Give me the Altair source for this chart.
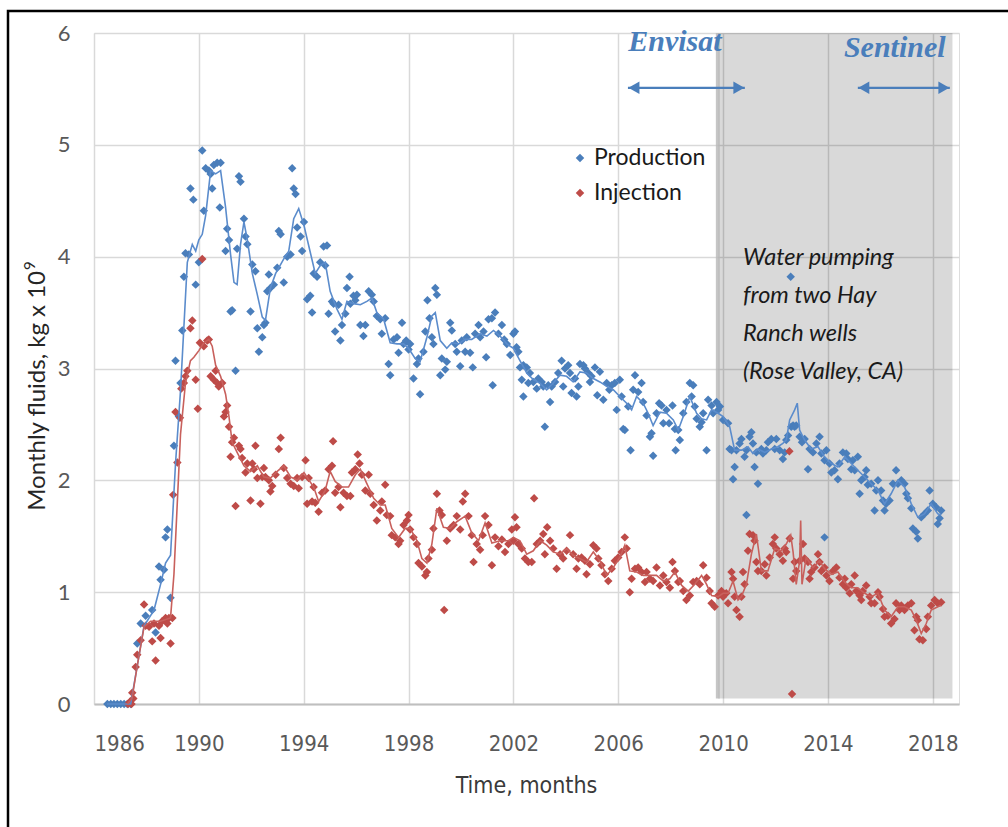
import altair as alt
import pandas as pd

# Monthly production (year, 1e9 kg)
prod_1986_1994 = [
    (1986.51, 0.0), (1986.64, 0.0), (1986.76, 0.0), (1986.89, 0.0), (1987.02, 0.0), (1987.15, 0.0),
    (1987.27, 0.0), (1987.40, 0.0), (1987.65, 0.54), (1987.78, 0.72), (1987.97, 0.79), (1988.22, 0.84),
    (1988.35, 0.64), (1988.48, 1.23), (1988.54, 1.11), (1988.67, 1.20), (1988.73, 1.49), (1988.80, 1.56),
    (1988.92, 0.95), (1989.05, 2.31), (1989.11, 3.07), (1989.24, 2.57), (1989.30, 2.87), (1989.37, 3.34),
    (1989.43, 3.82), (1989.49, 4.03), (1989.62, 4.02), (1989.68, 4.61), (1989.79, 4.51), (1989.88, 3.75),
    (1990.00, 3.95), (1990.13, 4.95), (1990.19, 4.41), (1990.26, 4.79), (1990.38, 4.77), (1990.45, 4.74),
    (1990.51, 4.61), (1990.57, 4.82), (1990.70, 4.84), (1990.80, 4.44), (1990.83, 4.84), (1991.02, 4.05),
    (1991.08, 4.25), (1991.15, 4.15), (1991.21, 3.51), (1991.27, 3.52), (1991.40, 2.98), (1991.46, 4.07),
    (1991.53, 4.72), (1991.59, 4.67), (1991.72, 4.34), (1991.78, 4.18), (1991.85, 4.11), (1991.97, 3.51),
    (1992.04, 3.93), (1992.16, 3.87), (1992.23, 3.36), (1992.29, 3.15), (1992.42, 3.28), (1992.48, 3.39),
    (1992.54, 3.41), (1992.61, 3.69), (1992.67, 3.84), (1992.73, 3.72), (1992.86, 3.75), (1992.99, 3.90),
    (1993.05, 4.23), (1993.12, 4.20), (1993.24, 3.77), (1993.37, 4.00), (1993.50, 4.02), (1993.56, 4.79),
    (1993.62, 4.61), (1993.69, 4.56), (1993.75, 4.26), (1993.88, 4.18), (1993.94, 4.05), (1994.01, 4.31),
    (1994.13, 3.62),
]
prod_1994_2002 = [
    (1994.25, 3.65), (1994.32, 3.50), (1994.38, 3.85), (1994.51, 3.82), (1994.63, 3.95), (1994.76, 4.09),
    (1994.82, 3.92), (1994.89, 4.10), (1994.95, 3.49), (1995.08, 3.60), (1995.14, 3.58), (1995.20, 3.33),
    (1995.33, 3.57), (1995.40, 3.25), (1995.46, 3.39), (1995.59, 3.49), (1995.65, 3.72), (1995.75, 3.82),
    (1995.78, 3.58), (1995.90, 3.65), (1995.97, 3.61), (1996.03, 3.66), (1996.16, 3.39), (1996.28, 3.29),
    (1996.35, 3.39), (1996.48, 3.69), (1996.60, 3.66), (1996.67, 3.60), (1996.79, 3.47), (1996.92, 3.44),
    (1996.98, 3.31), (1997.11, 3.45), (1997.24, 3.04), (1997.30, 2.94), (1997.43, 3.26), (1997.56, 3.28),
    (1997.62, 3.14), (1997.75, 3.41), (1997.81, 3.22), (1997.91, 3.25), (1998.00, 3.17), (1998.06, 3.22),
    (1998.19, 2.91), (1998.32, 3.04), (1998.38, 3.09), (1998.44, 2.77), (1998.57, 3.15), (1998.64, 3.33),
    (1998.72, 3.61), (1998.80, 3.45), (1998.89, 3.28), (1998.95, 3.22), (1999.02, 3.72), (1999.08, 3.66),
    (1999.21, 2.94), (1999.27, 3.09), (1999.40, 2.99), (1999.46, 3.06), (1999.59, 3.41), (1999.65, 3.34),
    (1999.78, 3.22), (1999.84, 3.15), (1999.97, 3.02), (2000.03, 3.25), (2000.16, 3.15), (2000.22, 3.28),
    (2000.35, 3.14), (2000.45, 3.01), (2000.54, 3.31), (2000.67, 3.39), (2000.73, 3.28), (2000.86, 3.33),
    (2000.96, 3.10), (2001.05, 3.44), (2001.18, 3.45), (2001.21, 2.85), (2001.30, 3.50), (2001.43, 3.31),
    (2001.56, 3.39), (2001.65, 3.26), (2001.75, 3.22), (2001.88, 3.12), (2002.00, 3.31),
]
prod_2002_2010 = [
    (2002.06, 3.33), (2002.12, 3.19), (2002.19, 3.15), (2002.25, 3.01), (2002.32, 2.90), (2002.38, 3.03),
    (2002.38, 2.75), (2002.51, 3.01), (2002.57, 2.87), (2002.63, 2.96), (2002.76, 2.88), (2002.89, 2.82),
    (2002.95, 2.91), (2003.08, 2.88), (2003.14, 2.84), (2003.20, 2.48), (2003.33, 2.85), (2003.40, 2.70),
    (2003.46, 2.84), (2003.59, 2.88), (2003.71, 2.96), (2003.84, 3.07), (2003.90, 2.84), (2003.97, 3.00),
    (2004.09, 3.03), (2004.16, 2.96), (2004.22, 2.78), (2004.35, 2.91), (2004.41, 2.75), (2004.48, 2.84),
    (2004.54, 3.04), (2004.67, 3.03), (2004.73, 3.00), (2004.86, 2.96), (2004.92, 2.88), (2004.98, 2.93),
    (2005.11, 3.01), (2005.20, 2.76), (2005.30, 2.97), (2005.43, 2.72), (2005.56, 2.87), (2005.66, 2.81),
    (2005.75, 2.85), (2005.87, 2.87), (2005.94, 2.63), (2006.06, 2.90), (2006.13, 2.75), (2006.19, 2.46),
    (2006.25, 2.45), (2006.38, 2.66), (2006.47, 2.27), (2006.57, 2.81), (2006.64, 2.94), (2006.76, 2.79),
    (2006.89, 2.87), (2006.95, 2.70), (2007.08, 2.58), (2007.21, 2.39), (2007.27, 2.42), (2007.33, 2.22),
    (2007.46, 2.60), (2007.56, 2.69), (2007.65, 2.67), (2007.72, 2.51), (2007.84, 2.63), (2007.94, 2.51),
    (2008.07, 2.67), (2008.16, 2.46), (2008.19, 2.27), (2008.29, 2.45), (2008.35, 2.36), (2008.48, 2.60),
    (2008.60, 2.70), (2008.73, 2.87), (2008.80, 2.75), (2008.86, 2.85), (2008.92, 2.66), (2008.99, 2.55),
    (2009.11, 2.48), (2009.18, 2.52), (2009.24, 2.60), (2009.37, 2.27), (2009.43, 2.72), (2009.56, 2.67),
    (2009.62, 2.60), (2009.75, 2.70), (2009.81, 2.63), (2009.88, 2.66), (2010.00, 2.54),
]
prod_2010_2019 = [
    (2010.19, 2.51), (2010.25, 2.28), (2010.32, 2.27), (2010.38, 2.01), (2010.44, 2.12), (2010.51, 2.27),
    (2010.63, 2.33), (2010.70, 2.37), (2010.82, 2.21), (2010.89, 2.27), (2010.89, 1.69), (2011.01, 2.39),
    (2011.08, 2.43), (2011.14, 2.33), (2011.20, 2.12), (2011.27, 2.25), (2011.33, 1.97), (2011.46, 2.28),
    (2011.52, 2.24), (2011.65, 2.27), (2011.71, 2.34), (2011.84, 2.37), (2011.97, 2.28), (2012.03, 2.37),
    (2012.16, 2.27), (2012.28, 2.19), (2012.35, 2.25), (2012.41, 2.36), (2012.48, 2.40), (2012.58, 3.82),
    (2012.60, 2.48), (2012.67, 2.49), (2012.73, 2.48), (2012.79, 2.49), (2012.92, 2.39), (2013.01, 2.34),
    (2013.11, 2.37), (2013.24, 2.10), (2013.30, 2.28), (2013.43, 2.25), (2013.56, 2.33), (2013.68, 2.39),
    (2013.75, 2.24), (2013.87, 2.18), (2013.87, 1.49), (2013.94, 2.27), (2014.06, 2.15), (2014.13, 2.07),
    (2014.25, 2.09), (2014.38, 2.01), (2014.44, 2.15), (2014.57, 2.25), (2014.70, 2.24), (2014.76, 2.19),
    (2014.89, 2.10), (2014.95, 2.18), (2015.02, 2.09), (2015.14, 2.21), (2015.21, 1.88), (2015.27, 2.00),
    (2015.40, 2.03), (2015.46, 2.09), (2015.52, 1.96), (2015.65, 1.97), (2015.78, 1.73), (2015.84, 1.91),
    (2015.91, 2.00), (2016.03, 1.91), (2016.10, 1.82), (2016.16, 1.73), (2016.22, 1.79), (2016.35, 1.82),
    (2016.48, 1.97), (2016.60, 2.09), (2016.67, 1.97), (2016.80, 2.00), (2016.92, 1.97), (2016.99, 1.88),
    (2017.05, 1.84), (2017.18, 1.75), (2017.24, 1.57), (2017.37, 1.54), (2017.43, 1.48), (2017.56, 1.67),
    (2017.68, 1.70), (2017.81, 1.73), (2017.88, 1.91), (2018.00, 1.79), (2018.13, 1.76), (2018.19, 1.61),
    (2018.26, 1.66), (2018.32, 1.73),
]

# Monthly injection (year, 1e9 kg)
inj_1986_1994 = [
    (1987.30, 0.0), (1987.37, 0.02), (1987.43, 0.0), (1987.46, 0.10), (1987.50, 0.05), (1987.59, 0.33),
    (1987.65, 0.44), (1987.78, 0.57), (1987.91, 0.89), (1987.97, 0.70), (1988.10, 0.69), (1988.22, 0.56),
    (1988.29, 0.72), (1988.35, 0.39), (1988.48, 0.70), (1988.54, 0.59), (1988.60, 0.74), (1988.73, 0.77),
    (1988.80, 0.72), (1988.86, 0.77), (1988.92, 0.54), (1988.99, 0.77), (1989.02, 1.87), (1989.11, 2.61),
    (1989.18, 2.16), (1989.28, 2.56), (1989.33, 2.82), (1989.43, 2.87), (1989.49, 2.93), (1989.56, 2.98),
    (1989.68, 3.36), (1989.75, 3.43), (1989.88, 2.90), (1989.96, 2.64), (1990.04, 3.23), (1990.13, 3.98),
    (1990.19, 3.20), (1990.32, 3.25), (1990.38, 3.26), (1990.45, 2.93), (1990.57, 2.90), (1990.64, 2.98),
    (1990.70, 2.87), (1990.76, 2.84), (1990.89, 2.87), (1990.96, 2.57), (1991.02, 2.61), (1991.08, 2.67),
    (1991.15, 2.48), (1991.21, 2.21), (1991.27, 2.34), (1991.34, 2.38), (1991.40, 1.77), (1991.53, 2.31),
    (1991.59, 2.28), (1991.65, 2.20), (1991.78, 2.07), (1991.85, 2.15), (1991.97, 1.82), (1992.04, 2.15),
    (1992.10, 2.10), (1992.16, 2.31), (1992.23, 2.02), (1992.35, 1.79), (1992.42, 2.03), (1992.48, 2.11),
    (1992.54, 2.03), (1992.67, 2.00), (1992.73, 1.90), (1992.80, 1.95), (1992.93, 2.05), (1993.05, 2.28),
    (1993.12, 2.38), (1993.24, 2.11), (1993.37, 2.02), (1993.50, 1.97), (1993.62, 1.95), (1993.75, 2.02),
    (1993.81, 1.93), (1993.94, 2.03), (1994.07, 2.18), (1994.13, 1.79),
]
inj_1994_2002 = [
    (1994.19, 2.02), (1994.32, 1.81), (1994.38, 1.94), (1994.44, 1.80), (1994.57, 1.72), (1994.70, 1.89),
    (1994.82, 1.91), (1994.95, 2.10), (1995.08, 2.13), (1995.12, 2.35), (1995.20, 1.89), (1995.33, 1.94),
    (1995.40, 1.76), (1995.52, 1.89), (1995.65, 1.86), (1995.78, 1.86), (1995.84, 2.07), (1995.97, 2.10),
    (1996.06, 2.23), (1996.13, 2.15), (1996.22, 2.05), (1996.35, 1.91), (1996.48, 2.05), (1996.54, 1.88),
    (1996.67, 1.78), (1996.79, 1.64), (1996.92, 1.73), (1996.98, 1.81), (1997.11, 1.96), (1997.17, 1.69),
    (1997.30, 1.68), (1997.36, 1.51), (1997.49, 1.49), (1997.62, 1.43), (1997.68, 1.46), (1997.81, 1.60),
    (1997.94, 1.64), (1998.00, 1.69), (1998.06, 1.56), (1998.19, 1.49), (1998.32, 1.43), (1998.38, 1.26),
    (1998.51, 1.23), (1998.64, 1.15), (1998.70, 1.18), (1998.76, 1.30), (1998.89, 1.38), (1998.95, 1.57),
    (1999.08, 1.88), (1999.18, 1.73), (1999.27, 1.69), (1999.36, 0.84), (1999.46, 1.46), (1999.59, 1.57),
    (1999.72, 1.60), (1999.84, 1.68), (1999.97, 1.56), (2000.07, 1.81), (2000.16, 1.88), (2000.29, 1.68),
    (2000.41, 1.51), (2000.48, 1.27), (2000.60, 1.43), (2000.73, 1.38), (2000.83, 1.51), (2000.92, 1.68),
    (2001.05, 1.60), (2001.18, 1.24), (2001.30, 1.49), (2001.43, 1.41), (2001.56, 1.47), (2001.68, 1.36),
    (2001.81, 1.43), (2001.94, 1.56),
]
inj_2002_2010 = [
    (2002.00, 1.46), (2002.06, 1.67), (2002.12, 1.58), (2002.19, 1.43), (2002.32, 1.39), (2002.44, 1.30),
    (2002.57, 1.27), (2002.70, 1.27), (2002.79, 1.84), (2002.89, 1.43), (2003.02, 1.46), (2003.14, 1.52),
    (2003.20, 1.34), (2003.29, 1.58), (2003.40, 1.46), (2003.52, 1.39), (2003.65, 1.21), (2003.78, 1.34),
    (2003.90, 1.30), (2004.03, 1.37), (2004.16, 1.51), (2004.28, 1.34), (2004.41, 1.21), (2004.48, 1.30),
    (2004.60, 1.31), (2004.73, 1.28), (2004.79, 1.16), (2004.92, 1.25), (2005.05, 1.42), (2005.17, 1.39),
    (2005.24, 1.30), (2005.36, 1.24), (2005.49, 1.16), (2005.62, 1.10), (2005.75, 1.21), (2005.87, 1.28),
    (2006.00, 1.31), (2006.13, 1.36), (2006.25, 1.49), (2006.32, 1.39), (2006.44, 1.00), (2006.51, 1.12),
    (2006.64, 1.21), (2006.76, 1.22), (2006.89, 1.18), (2007.02, 1.09), (2007.08, 1.18), (2007.21, 1.12),
    (2007.33, 1.10), (2007.46, 1.22), (2007.59, 1.06), (2007.72, 1.15), (2007.84, 1.09), (2007.97, 1.04),
    (2008.07, 1.27), (2008.16, 1.19), (2008.29, 1.09), (2008.35, 1.10), (2008.48, 1.01), (2008.60, 0.93),
    (2008.73, 0.97), (2008.86, 1.09), (2008.99, 1.10), (2009.11, 1.07), (2009.24, 1.24), (2009.37, 1.13),
    (2009.49, 1.01), (2009.56, 0.90), (2009.68, 0.87), (2009.81, 0.97), (2009.94, 1.01), (2010.00, 0.96),
]
inj_2010_2019 = [
    (2010.12, 0.99), (2010.19, 0.90), (2010.32, 1.18), (2010.38, 1.12), (2010.44, 0.96), (2010.51, 0.84),
    (2010.63, 0.78), (2010.70, 0.96), (2010.76, 1.18), (2010.82, 1.07), (2010.95, 1.37), (2011.01, 1.52),
    (2011.14, 1.51), (2011.20, 1.46), (2011.27, 1.27), (2011.33, 1.19), (2011.46, 1.19), (2011.59, 1.25),
    (2011.65, 1.15), (2011.78, 1.31), (2011.90, 1.43), (2011.97, 1.49), (2012.03, 1.39), (2012.16, 1.34),
    (2012.28, 1.28), (2012.35, 1.39), (2012.41, 1.36), (2012.53, 2.26), (2012.54, 1.48), (2012.63, 0.09),
    (2012.67, 1.12), (2012.73, 1.27), (2012.79, 1.19), (2012.92, 1.28), (2013.05, 1.43), (2013.11, 1.30),
    (2013.24, 1.27), (2013.30, 1.12), (2013.36, 1.18), (2013.49, 1.22), (2013.62, 1.34), (2013.68, 1.27),
    (2013.75, 1.19), (2013.87, 1.22), (2013.94, 1.15), (2014.06, 1.10), (2014.19, 1.19), (2014.32, 1.22),
    (2014.44, 1.13), (2014.57, 1.07), (2014.64, 1.12), (2014.70, 1.04), (2014.83, 0.99), (2014.89, 1.07),
    (2015.02, 1.15), (2015.08, 1.01), (2015.21, 0.97), (2015.27, 0.93), (2015.33, 1.01), (2015.46, 1.06),
    (2015.59, 0.96), (2015.65, 0.90), (2015.78, 0.90), (2015.91, 1.00), (2015.97, 0.96), (2016.10, 0.85),
    (2016.16, 0.78), (2016.29, 0.79), (2016.41, 0.72), (2016.54, 0.76), (2016.60, 0.90), (2016.73, 0.84),
    (2016.80, 0.88), (2016.92, 0.84), (2017.05, 0.88), (2017.18, 0.90), (2017.30, 0.66), (2017.37, 0.78),
    (2017.43, 0.75), (2017.49, 0.58), (2017.62, 0.57), (2017.75, 0.67), (2017.81, 0.78), (2017.94, 0.88),
    (2018.07, 0.93), (2018.19, 0.90), (2018.32, 0.91),
]

# Smoothed (running mean) curves
prod_trend = [
    (1986.50, 0.0), (1987.40, 0.0), (1987.65, 0.34), (1987.91, 0.70), (1988.29, 0.84), (1988.54, 1.07),
    (1988.73, 1.26), (1988.92, 1.33), (1989.11, 2.15), (1989.30, 2.80), (1989.56, 3.95), (1989.75, 4.11),
    (1989.88, 4.05), (1990.00, 4.15), (1990.13, 4.20), (1990.26, 4.37), (1990.45, 4.77), (1990.64, 4.74),
    (1990.83, 4.77), (1991.02, 4.44), (1991.21, 4.02), (1991.34, 3.77), (1991.46, 3.75), (1991.59, 4.11),
    (1991.72, 4.31), (1991.85, 4.15), (1992.04, 3.85), (1992.23, 3.66), (1992.42, 3.46), (1992.54, 3.43),
    (1992.73, 3.72), (1992.93, 3.85), (1993.24, 3.98), (1993.43, 4.05), (1993.62, 4.34), (1993.81, 4.43),
    (1994.01, 4.28), (1994.25, 4.04), (1994.44, 3.85), (1994.63, 3.92), (1994.82, 3.95), (1995.01, 3.69),
    (1995.27, 3.53), (1995.46, 3.44), (1995.65, 3.60), (1995.90, 3.58), (1996.16, 3.57), (1996.41, 3.60),
    (1996.60, 3.63), (1996.79, 3.50), (1997.05, 3.44), (1997.30, 3.23), (1997.56, 3.22), (1997.81, 3.22),
    (1998.00, 3.18), (1998.25, 3.09), (1998.44, 3.06), (1998.70, 3.28), (1998.89, 3.47), (1999.02, 3.50),
    (1999.21, 3.25), (1999.46, 3.18), (1999.65, 3.23), (1999.91, 3.22), (2000.16, 3.26), (2000.41, 3.26),
    (2000.73, 3.31), (2000.99, 3.29), (2001.24, 3.34), (2001.49, 3.29), (2001.75, 3.22), (2002.00, 3.18),
    (2002.25, 3.07), (2002.51, 2.96), (2002.76, 2.90), (2003.01, 2.87), (2003.27, 2.81), (2003.52, 2.87),
    (2003.78, 2.94), (2004.03, 2.93), (2004.28, 2.88), (2004.54, 2.97), (2004.79, 2.96), (2005.05, 2.91),
    (2005.30, 2.88), (2005.56, 2.84), (2005.81, 2.81), (2006.06, 2.75), (2006.32, 2.69), (2006.51, 2.63),
    (2006.70, 2.75), (2006.95, 2.69), (2007.14, 2.60), (2007.33, 2.49), (2007.59, 2.61), (2007.84, 2.60),
    (2008.10, 2.54), (2008.29, 2.45), (2008.48, 2.57), (2008.73, 2.75), (2008.99, 2.60), (2009.18, 2.55),
    (2009.37, 2.54), (2009.56, 2.63), (2009.81, 2.60), (2010.00, 2.57), (2010.25, 2.48), (2010.44, 2.27),
    (2010.70, 2.27), (2010.95, 2.30), (2011.14, 2.24), (2011.33, 2.28), (2011.59, 2.25), (2011.84, 2.28),
    (2012.09, 2.30), (2012.28, 2.33), (2012.41, 2.36), (2012.54, 2.54), (2012.73, 2.63), (2012.83, 2.69),
    (2012.92, 2.45), (2013.11, 2.36), (2013.36, 2.28), (2013.62, 2.30), (2013.87, 2.21), (2014.13, 2.15),
    (2014.38, 2.12), (2014.64, 2.21), (2014.89, 2.15), (2015.14, 2.09), (2015.40, 2.03), (2015.65, 1.97),
    (2015.91, 1.91), (2016.16, 1.79), (2016.41, 1.88), (2016.67, 2.00), (2016.92, 1.94), (2017.18, 1.79),
    (2017.43, 1.67), (2017.68, 1.70), (2017.94, 1.79), (2018.19, 1.70), (2018.32, 1.69),
]
inj_trend = [
    (1987.27, 0.0), (1987.45, 0.05), (1987.65, 0.34), (1987.91, 0.69), (1988.16, 0.74), (1988.54, 0.74),
    (1988.92, 0.77), (1989.05, 1.16), (1989.30, 2.41), (1989.49, 2.87), (1989.68, 3.07), (1989.81, 3.10),
    (1990.00, 3.16), (1990.19, 3.23), (1990.38, 3.26), (1990.51, 3.20), (1990.64, 3.03), (1990.83, 2.93),
    (1991.02, 2.77), (1991.15, 2.57), (1991.27, 2.34), (1991.46, 2.25), (1991.72, 2.13), (1991.97, 2.08),
    (1992.23, 2.13), (1992.48, 2.03), (1992.73, 2.02), (1992.99, 2.08), (1993.24, 2.13), (1993.50, 2.03),
    (1993.75, 2.00), (1994.01, 2.07), (1994.38, 1.94), (1994.57, 1.81), (1994.82, 1.91), (1995.01, 2.08),
    (1995.20, 1.99), (1995.46, 1.94), (1995.71, 1.94), (1995.97, 2.05), (1996.16, 2.10), (1996.41, 1.97),
    (1996.67, 1.84), (1996.92, 1.78), (1997.11, 1.78), (1997.36, 1.57), (1997.62, 1.49), (1997.87, 1.57),
    (1998.06, 1.57), (1998.32, 1.46), (1998.51, 1.30), (1998.70, 1.26), (1998.89, 1.43), (1999.08, 1.75),
    (1999.33, 1.58), (1999.59, 1.57), (1999.84, 1.63), (2000.16, 1.68), (2000.41, 1.53), (2000.67, 1.46),
    (2000.92, 1.62), (2001.18, 1.44), (2001.49, 1.46), (2001.81, 1.46), (2002.00, 1.49), (2002.25, 1.46),
    (2002.51, 1.34), (2002.76, 1.37), (2003.02, 1.46), (2003.27, 1.42), (2003.52, 1.36), (2003.78, 1.34),
    (2004.03, 1.39), (2004.28, 1.33), (2004.54, 1.30), (2004.79, 1.27), (2005.05, 1.36), (2005.30, 1.28),
    (2005.56, 1.15), (2005.81, 1.22), (2006.06, 1.31), (2006.25, 1.42), (2006.44, 1.19), (2006.70, 1.18),
    (2006.95, 1.15), (2007.21, 1.15), (2007.46, 1.15), (2007.72, 1.10), (2007.97, 1.12), (2008.16, 1.18),
    (2008.42, 1.06), (2008.67, 1.01), (2008.92, 1.07), (2009.18, 1.15), (2009.37, 1.07), (2009.56, 0.97),
    (2009.81, 0.96), (2010.00, 0.99), (2010.19, 0.99), (2010.38, 1.10), (2010.57, 0.93), (2010.70, 0.96),
    (2010.89, 1.07), (2011.08, 1.34), (2011.27, 1.52), (2011.46, 1.19), (2011.71, 1.19), (2011.97, 1.39),
    (2012.22, 1.37), (2012.41, 1.43), (2012.58, 1.51), (2012.67, 1.36), (2012.79, 1.07), (2012.92, 1.28),
    (2012.96, 1.64), (2013.01, 1.07), (2013.17, 1.31), (2013.43, 1.22), (2013.68, 1.28), (2013.87, 1.21),
    (2014.13, 1.16), (2014.38, 1.18), (2014.64, 1.09), (2014.89, 1.04), (2015.14, 1.04), (2015.40, 0.99),
    (2015.65, 0.96), (2015.91, 0.99), (2016.16, 0.84), (2016.41, 0.78), (2016.67, 0.87), (2016.92, 0.87),
    (2017.18, 0.84), (2017.37, 0.75), (2017.56, 0.63), (2017.75, 0.72), (2017.94, 0.84), (2018.19, 0.87),
    (2018.32, 0.88),
]

# Satellite coverage periods and the pumping period
satellites = ["Envisat", "Sentinel"]
sat_start = [2006.37, 2015.14]
sat_end = [2010.83, 2018.65]
sat_level = [5.51, 5.51]
sat_label_x = [2008.16, 2016.55]
sat_label_y = [5.92, 5.87]
pumping_start, pumping_end = 2009.8, 2018.75

year_ticks = list(range(1986, 2019, 4))
value_ticks = [0, 1, 2, 3, 4, 5, 6]
series_names = ["Production", "Injection"]

BLUE = "#4a7ebb"
RED = "#be4b48"
SANS = "Lato"
NARROW = "DejaVu Sans Condensed, Roboto, Lato"
MARKER = 72


def frame(pairs):
    return pd.DataFrame(pairs, columns=["t", "v"])


prod_df = frame(prod_1986_1994 + prod_1994_2002 + prod_2002_2010 + prod_2010_2019)
inj_df = frame(inj_1986_1994 + inj_1994_2002 + inj_2002_2010 + inj_2010_2019)
prod_tr = frame(prod_trend)
inj_tr = frame(inj_trend)

xs = alt.Scale(domain=[1986, 2019], nice=False, zero=False)
ys = alt.Scale(domain=[0, 6], nice=False)

x_axis = alt.Axis(
    values=year_ticks, format="d", title="Time, months",
    grid=True, gridColor="#d9d9d9", gridWidth=1.5,
    domain=True, domainColor="#bfbfbf", domainWidth=2, ticks=False,
    labelFont=NARROW, labelFontSize=22, labelColor="#595959", labelPadding=29,
    titleFont=NARROW, titleFontSize=23, titleColor="#3a3a3a", titleFontWeight="normal",
    titleX=432, titleY=81, titleBaseline="middle",
)
y_axis = alt.Axis(
    values=value_ticks, format="d", title=None,
    grid=True, gridColor="#d9d9d9", gridWidth=1.5,
    domain=False, ticks=False,
    labelFont=SANS, labelFontSize=22, labelColor="#595959", labelPadding=24,
)
X = alt.X("t:Q", scale=xs, axis=x_axis)
Y = alt.Y("v:Q", scale=ys, axis=y_axis)

band_df = pd.DataFrame({"t": [pumping_start], "t2": [pumping_end], "v": [0.05], "v2": [6.0]})
band = alt.Chart(band_df).mark_rect(color="black", opacity=0.15).encode(
    x=X, x2="t2:Q", y=Y, y2="v2:Q"
)
band_edge = alt.Chart(band_df).mark_rule(color="#b8b8b8", strokeWidth=4, opacity=0.8).encode(
    x=X, y=Y, y2="v2:Q"
)

prod_pts = alt.Chart(prod_df).mark_point(
    shape="diamond", filled=True, size=MARKER, color=BLUE, opacity=1
).encode(x=X, y=Y)
inj_pts = alt.Chart(inj_df).mark_point(
    shape="diamond", filled=True, size=MARKER, color=RED, opacity=1
).encode(x=X, y=Y)
prod_line = alt.Chart(prod_tr).mark_line(color="#5b8ccc", strokeWidth=1.6).encode(x=X, y=Y)
inj_line = alt.Chart(inj_tr).mark_line(color="#c8605c", strokeWidth=1.6).encode(x=X, y=Y)

sat_df = pd.DataFrame({
    "name": satellites, "t": sat_start, "t2": sat_end, "v": sat_level,
    "lx": sat_label_x, "ly": sat_label_y,
})
arrow_shaft = alt.Chart(sat_df).mark_rule(color=BLUE, strokeWidth=2.2).encode(
    x=X, x2="t2:Q", y=Y
)
head_right = alt.Chart(sat_df).mark_point(
    shape="triangle-right", filled=True, size=160, color=BLUE, opacity=1, xOffset=-6
).encode(x=alt.X("t2:Q", scale=xs, axis=x_axis), y=Y)
head_left = alt.Chart(sat_df).mark_point(
    shape="triangle-left", filled=True, size=160, color=BLUE, opacity=1, xOffset=6
).encode(x=X, y=Y)
sat_text = alt.Chart(sat_df).mark_text(
    font="Liberation Serif", fontSize=30, fontStyle="italic", fontWeight="bold",
    color=BLUE, baseline="middle", align="center",
).encode(
    x=alt.X("lx:Q", scale=xs, axis=x_axis),
    y=alt.Y("ly:Q", scale=ys, axis=y_axis),
    text="name:N",
)

note = alt.Chart(band_df).mark_text(
    text=["Water pumping", "from two Hay", "Ranch wells", "(Rose Valley, CA)"],
    font=SANS, fontSize=23.5, fontStyle="italic", color="#1a1a1a",
    align="left", baseline="top", lineHeight=38,
).encode(x=alt.value(649), y=alt.value(213))

# Y-axis title, drawn as text so the exponent can sit raised and smaller
y_title = alt.Chart(band_df).mark_text(
    text="Monthly fluids, kg x 10", font=SANS, fontSize=24, color="#262626",
    angle=270, align="right", baseline="middle",
).encode(x=alt.value(-56), y=alt.value(238))
y_title_exp = alt.Chart(band_df).mark_text(
    text="9", font=SANS, fontSize=15, color="#262626",
    angle=270, align="left", baseline="middle",
).encode(x=alt.value(-64), y=alt.value(237))

legend_layers = []
for name, color, ypos in zip(series_names, [BLUE, RED], [125, 160]):
    legend_layers.append(
        alt.Chart(band_df).mark_point(
            shape="diamond", filled=True, size=MARKER, color=color, opacity=1
        ).encode(x=alt.value(486), y=alt.value(ypos))
    )
    legend_layers.append(
        alt.Chart(band_df).mark_text(
            text=name, font=SANS, fontSize=23, color="#1a1a1a", align="left", baseline="middle"
        ).encode(x=alt.value(500), y=alt.value(ypos))
    )

border = alt.Chart(band_df).mark_rect(
    fillOpacity=0, stroke="black", strokeWidth=2.5
).encode(x=alt.value(-86), x2=alt.value(1200), y=alt.value(-22), y2=alt.value(1200))

chart = alt.layer(
    band, band_edge, prod_pts, inj_pts, prod_line, inj_line,
    arrow_shaft, head_right, head_left, sat_text, note, y_title, y_title_exp,
    *legend_layers, border,
).properties(
    width=865, height=671,
    autosize=alt.AutoSizeParams(type="none"),
    padding={"left": 94, "top": 33, "right": 49, "bottom": 123},
).configure_view(stroke=None).configure(background="white")

chart.save("out.html", embed_options={"renderer": "svg", "actions": False})
